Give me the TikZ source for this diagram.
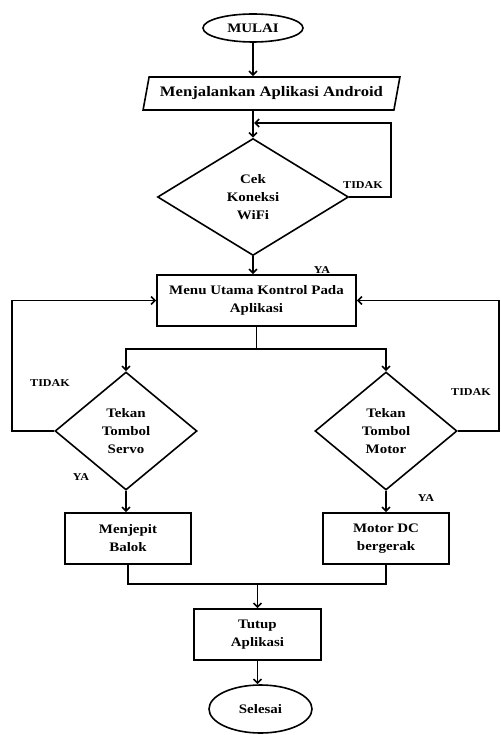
\documentclass[tikz,border=0pt]{standalone}
\usepackage{fontspec}
\setmainfont{Liberation Serif}[FakeStretch=1.15]
\usetikzlibrary{arrows.meta, positioning, shapes.geometric}

\begin{document}
\begin{tikzpicture}[
  x=1pt, y=-1pt,
  font=\bfseries\fontsize{13}{18}\selectfont,
  line width=1.6pt,
  box/.style={draw, rectangle, align=center, inner sep=2pt},
  io/.style={draw, trapezium, trapezium left angle=72, trapezium right angle=108, trapezium stretches=true, inner sep=2pt},
  terminal/.style={draw, ellipse, inner sep=1pt},
  decision/.style={draw, diamond, align=center, inner sep=0pt},
  arrow/.style={-{Straight Barb[length=4pt, width=8pt]}},
  answer/.style={font=\bfseries\fontsize{10.5}{12}\selectfont},
]
\useasboundingbox (0,0) rectangle (500,735);

% Start and app launch
\node[terminal, minimum width=100pt, minimum height=28pt] (mulai) at (253,28) {MULAI};
\node[io, minimum width=257pt, minimum height=33pt, font=\bfseries\fontsize{14.5}{18}\selectfont] (android) at (271.5,93.5) {Menjalankan Aplikasi Android};

% WiFi check
\node[decision, minimum width=191pt, minimum height=117pt] (cek) at (253,197) {Cek\\Koneksi\\WiFi};

% Main menu
\node[box, minimum width=199pt, minimum height=51pt] (menu) at (256.5,300.5) {Menu Utama Kontrol Pada\\Aplikasi};

% Two branches
\node[decision, minimum width=142pt, minimum height=118pt] (servo) at (126,431) {Tekan\\Tombol\\Servo};
\node[decision, minimum width=142pt, minimum height=118pt] (motor) at (386,431) {Tekan\\Tombol\\Motor};
\node[box, minimum width=126pt, minimum height=51pt] (jepit) at (128,538.5) {Menjepit\\Balok};
\node[box, minimum width=126pt, minimum height=51pt] (motordc) at (386,538.5) {Motor DC\\bergerak};

% Closing
\node[box, minimum width=127pt, minimum height=51pt] (tutup) at (257.5,634.5) {Tutup\\Aplikasi};
\node[terminal, minimum width=103pt, minimum height=48pt] (selesai) at (260.5,709) {Selesai};

% Labels
\node[answer] (tidakcek) at (363,185) {TIDAK};
\node[answer] (yacek) at (322,270) {YA};
\node[answer] (tidakservo) at (50,383) {TIDAK};
\node[answer] (yaservo) at (81,477) {YA};
\node[answer] (tidakmotor) at (471,392) {TIDAK};
\node[answer] (yamotor) at (426,498) {YA};

% Arrows down the main line
\draw[arrow] (mulai.south) -- (mulai.south |- android.north);
\draw[arrow] (cek.north |- android.south) -- (cek.north);
\draw[arrow] (cek.south) -- (cek.south |- menu.north);

% Retry loop on WiFi check
\coordinate (cekloop) at (391,123);
\draw[arrow] (cek.east) -| (cekloop) -- ([xshift=1pt]cekloop -| cek.north);

% Split to both branches
\draw[arrow] (menu.south) -- ++(0,22) -| (servo.north);
\draw[arrow] (menu.south) ++(0,22) -| (motor.north);

% Back to menu when not pressed
\draw[arrow] (servo.west) -- ++(-42,0) |- (menu.west);
\draw[arrow] (motor.east) -- ++(41,0) |- (menu.east);

\draw[arrow] (servo.south) -- (servo.south |- jepit.north);
\draw[arrow] (motor.south) -- (motor.south |- motordc.north);

% Join and finish
\draw (jepit.south) -- ++(0,19) -| (motordc.south);
\draw[arrow] (tutup.north |- 0,583) -- (tutup.north);
\draw[arrow] (tutup.south) -- (tutup.south |- selesai.north);

\end{tikzpicture}
\end{document}
